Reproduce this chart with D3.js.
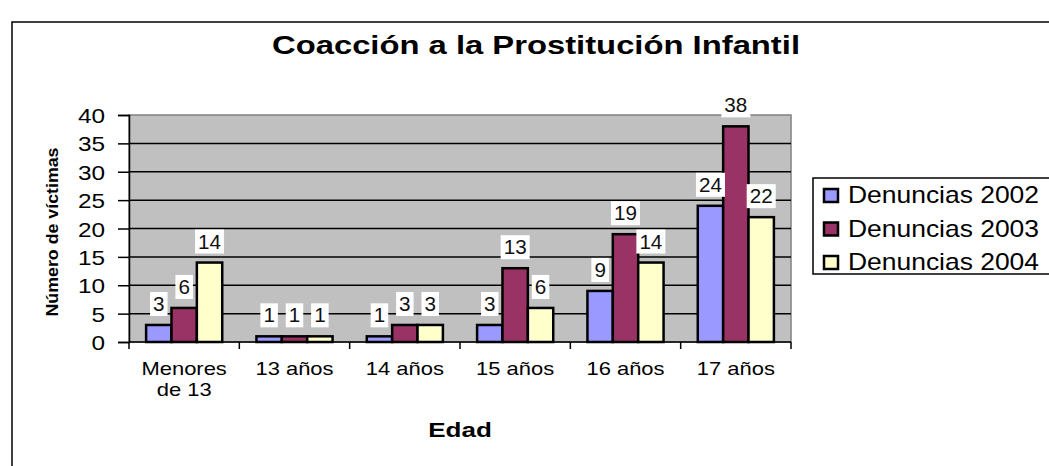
<!DOCTYPE html>
<html>
<head>
<meta charset="utf-8">
<script src="https://cdn.jsdelivr.net/npm/d3@7"></script>
<style>
  body { margin: 0; background: #fff; }
  svg { display: block; font-family: "Liberation Sans", Arial, sans-serif; }
</style>
</head>
<body>
<div class="js-chart"></div>
<script>
// data
const categories = [["Menores", "de 13"], ["13 años"], ["14 años"], ["15 años"], ["16 años"], ["17 años"]];
const seriesNames = ["Denuncias 2002", "Denuncias 2003", "Denuncias 2004"];
const values2002 = [3, 1, 1, 3, 9, 24];
const values2003 = [6, 1, 3, 13, 19, 38];
const values2004 = [14, 1, 3, 6, 14, 22];
const yTicks = [0, 5, 10, 15, 20, 25, 30, 35, 40];
const colors = ["#9999ff", "#993366", "#ffffcc"];

const width = 1049
    , height = 466
    ;

const plot = {left: 129, right: 791, top: 115, bottom: 342};

const svg = d3.select(".js-chart")
  .append("svg")
  .attr("width", width)
  .attr("height", height);

// the source text is wider than Arial, so stretch horizontally about x
function stretch(sel, sx) {
  sel.attr("transform", function() {
    const x = +this.getAttribute("x") || 0;
    return `translate(${x},0) scale(${sx},1) translate(${-x},0)`;
  });
}

// outer chart frame
svg.append("rect")
  .attr("x", 12).attr("y", 22)
  .attr("width", width + 10).attr("height", height + 10)
  .attr("fill", "#fff")
  .attr("stroke", "#000")
  .attr("stroke-width", 1.5);

svg.append("text")
  .attr("x", 536).attr("y", 54)
  .attr("text-anchor", "middle")
  .attr("textLength", 528)
  .attr("lengthAdjust", "spacingAndGlyphs")
  .style("font-size", "26px")
  .style("font-weight", "bold")
  .text("Coacción a la Prostitución Infantil");

const catKeys = categories.map((c, i) => i);

const x = d3.scaleBand()
  .domain(catKeys)
  .range([plot.left, plot.right])
  .paddingInner(0.31)
  .paddingOuter(0.155);

const xInner = d3.scaleBand()
  .domain(seriesNames)
  .range([0, x.bandwidth()]);

const y = d3.scaleLinear()
  .domain([0, 40])
  .range([plot.bottom, plot.top]);

// plot background
svg.append("rect")
  .attr("x", plot.left).attr("y", plot.top)
  .attr("width", plot.right - plot.left)
  .attr("height", plot.bottom - plot.top)
  .attr("fill", "#c0c0c0")
  .attr("stroke", "#808080")
  .attr("stroke-width", 1.5);

// gridlines
svg.append("g")
  .selectAll("line")
  .data(yTicks.filter(t => t > 0 && t < 40))
  .join("line")
  .attr("x1", plot.left).attr("x2", plot.right)
  .attr("y1", d => y(d)).attr("y2", d => y(d))
  .attr("stroke", "#000")
  .attr("stroke-width", 1.5);

// y axis
const yAxis = svg.append("g")
  .attr("transform", `translate(${plot.left},0)`)
  .call(d3.axisLeft(y).tickValues(yTicks).tickSize(11).tickPadding(13));
yAxis.selectAll("text")
  .style("font-size", "21px")
  .attr("fill", "#000")
  .attr("dy", "0.36em")
  .call(stretch, 1.16);
yAxis.selectAll("line, path").attr("stroke", "#000").attr("stroke-width", 1.5);

// x axis with ticks between categories
const xAxisG = svg.append("g");
xAxisG.append("line")
  .attr("x1", plot.left).attr("x2", plot.right)
  .attr("y1", plot.bottom).attr("y2", plot.bottom)
  .attr("stroke", "#000").attr("stroke-width", 1.5);
const step = (plot.right - plot.left) / categories.length;
xAxisG.selectAll(".tick")
  .data(d3.range(categories.length + 1))
  .join("line")
  .attr("x1", d => plot.left + d * step).attr("x2", d => plot.left + d * step)
  .attr("y1", plot.bottom).attr("y2", plot.bottom + 7)
  .attr("stroke", "#000").attr("stroke-width", 1.5);

const xLabel = xAxisG.selectAll("text.cat")
  .data(categories)
  .join("text")
  .attr("class", "cat")
  .attr("x", (d, i) => x(i) + x.bandwidth() / 2)
  .attr("y", 375)
  .attr("text-anchor", "middle")
  .style("font-size", "18px")
  .call(stretch, 1.22);
xLabel.selectAll("tspan")
  .data(d => d)
  .join("tspan")
  .attr("x", function() { return this.parentNode.getAttribute("x"); })
  .attr("dy", (d, i) => i ? 21 : 0)
  .text(d => d);

// bars
const series = [values2002, values2003, values2004];
const barData = [];
categories.forEach((c, i) => {
  series.forEach((vals, s) => {
    barData.push({cat: i, name: seriesNames[s], value: vals[i], color: colors[s]});
  });
});

svg.append("g")
  .selectAll("rect")
  .data(barData)
  .join("rect")
  .attr("x", d => x(d.cat) + xInner(d.name))
  .attr("y", d => y(d.value))
  .attr("width", xInner.bandwidth())
  .attr("height", d => y(0) - y(d.value))
  .attr("fill", d => d.color)
  .attr("stroke", "#000")
  .attr("stroke-width", 2.5);

// value labels with white boxes
const labelG = svg.append("g")
  .selectAll("g")
  .data(barData)
  .join("g")
  .attr("transform", d => `translate(${x(d.cat) + xInner(d.name) + xInner.bandwidth() / 2},${y(d.value) - 9})`);

labelG.append("rect")
  .attr("x", d => -(String(d.value).length * 11.5 + 6) / 2)
  .attr("y", -24)
  .attr("width", d => String(d.value).length * 11.5 + 6)
  .attr("height", 24)
  .attr("fill", "#fff");

labelG.append("text")
  .attr("text-anchor", "middle")
  .attr("y", -5)
  .style("font-size", "19.5px")
  .attr("fill", "#111")
  .text(d => d.value)
  .call(stretch, 1.06);

// axis titles
svg.append("text")
  .attr("transform", "translate(58,232) rotate(-90)")
  .attr("text-anchor", "middle")
  .attr("textLength", 169)
  .attr("lengthAdjust", "spacingAndGlyphs")
  .style("font-size", "16.5px")
  .style("font-weight", "bold")
  .text("Número de víctimas");

svg.append("text")
  .attr("x", 460).attr("y", 437)
  .attr("text-anchor", "middle")
  .style("font-size", "21px")
  .style("font-weight", "bold")
  .text("Edad")
  .call(stretch, 1.24);

// legend
svg.append("rect")
  .attr("x", 813).attr("y", 178)
  .attr("width", 250).attr("height", 96)
  .attr("fill", "#fff")
  .attr("stroke", "#000")
  .attr("stroke-width", 1.5);

const legendItem = svg.append("g")
  .selectAll("g")
  .data(seriesNames)
  .join("g")
  .attr("transform", (d, i) => `translate(823,${195 + i * 33.5})`);

legendItem.append("rect")
  .attr("x", 1).attr("y", -6)
  .attr("width", 14).attr("height", 13)
  .attr("fill", (d, i) => colors[i])
  .attr("stroke", "#000")
  .attr("stroke-width", 2.5);

legendItem.append("text")
  .attr("x", 25).attr("y", 8)
  .style("font-size", "23px")
  .text(d => d)
  .call(stretch, 1.15);
</script>
</body>
</html>
